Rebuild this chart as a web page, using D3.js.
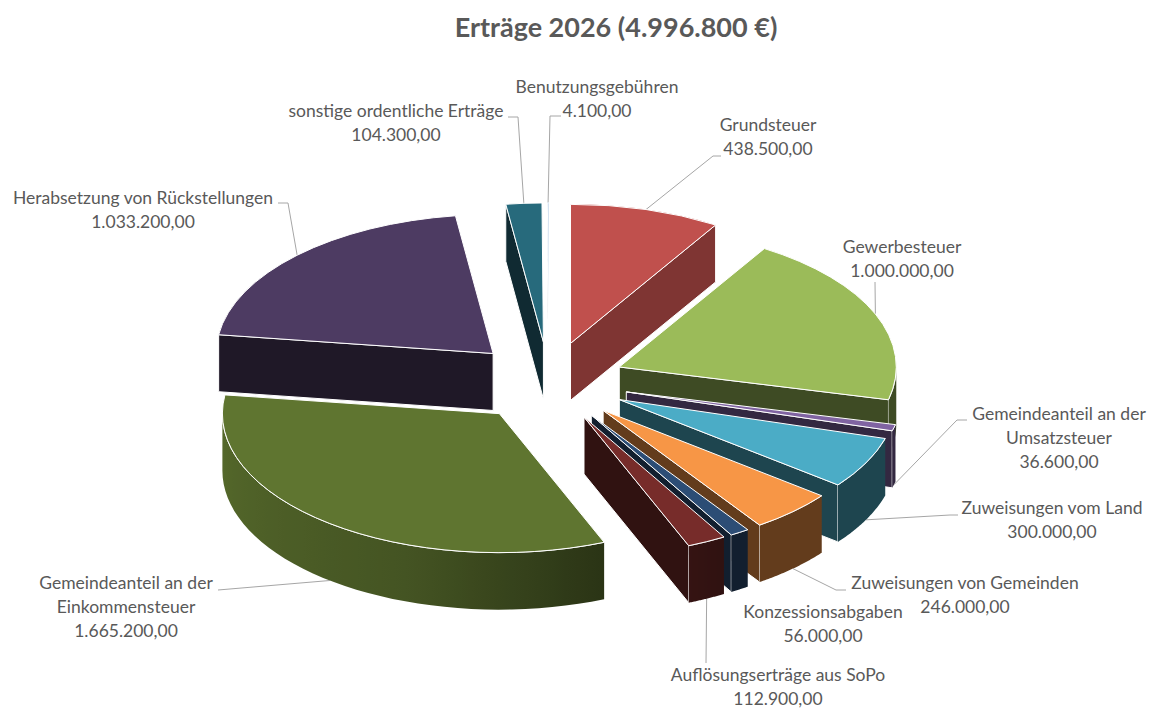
<!DOCTYPE html>
<html>
<head>
<meta charset="utf-8">
<script src="https://cdnjs.cloudflare.com/ajax/libs/d3/7.8.5/d3.min.js"></script>
<style>
	html,body{margin:0;padding:0;background:#fff;}
	svg{display:block;}
	text{font-family:Lato,'Open Sans',sans-serif;fill:#595959;}
</style>
</head>
<body>
<div id="chart"></div>
<script>
////////////////////////////////////////
// data
////////////////////////////////////////

var categories = [
	'Benutzungsgebühren',
	'Grundsteuer',
	'Gewerbesteuer',
	'Gemeindeanteil an der Umsatzsteuer',
	'Zuweisungen vom Land',
	'Zuweisungen von Gemeinden',
	'Konzessionsabgaben',
	'Auflösungserträge aus SoPo',
	'Gemeindeanteil an der Einkommensteuer',
	'Herabsetzung von Rückstellungen',
	'sonstige ordentliche Erträge'
];
var values = [4100,438500,1000000,36600,300000,246000,56000,112900,1665200,1033200,104300];
var sliceColors = ['#4f81bd','#c0504d','#9bbb59','#8064a2','#4bacc6','#f79646','#2c4d75','#772c2a','#5f7530','#4d3b62','#276a7c'];

////////////////////////////////////////
// layout
////////////////////////////////////////

var w = 1154, h = 709;
var cx = 549, cy = 381.5;
var rx = 277, ry = 139;
var depth = 57;
var explodeBy = [79,79,76,80,79,79,79,79,81,79,79];

// label text broken the way it is in the chart, [x, y of first line]
var labelLines = [
	['Benutzungsgebühren'],
	['Grundsteuer'],
	['Gewerbesteuer'],
	['Gemeindeanteil an der','Umsatzsteuer'],
	['Zuweisungen vom Land'],
	['Zuweisungen von Gemeinden'],
	['Konzessionsabgaben'],
	['Auflösungserträge aus SoPo'],
	['Gemeindeanteil an der','Einkommensteuer'],
	['Herabsetzung von Rückstellungen'],
	['sonstige ordentliche Erträge']
];
var labelPos = [[597,87],[768,125],[902,247],[1059,414],[1052,508],[965,583],[823,612],[778,675],[126,583],[143,198],[396,111]];
var lineGap = 23.8;

// leader elbows, null = no leader drawn
var leaderPts = [
	[[550,116],[561,116]],
	[[713,156],[721,156]],
	[[875,282]],
	[[957,420],[967,420]],
	[[950,515],[958,515]],
	[[836,590],[846,590]],
	null,
	[[706,663]],
	[[218,590]],
	[[288,203],[278,203]],
	[[518,117],[508,117]]
];

var num = d3.formatLocale({decimal:',',thousands:'.',grouping:[3],currency:['','€']});
var fmtValue = num.format(',.2f');
var fmtTotal = num.format(',');

////////////////////////////////////////
// pie
////////////////////////////////////////

var total = d3.sum(values);
var startOffset = -values[0]/total*2*Math.PI;

var pie = d3.pie()
	.sort(null)
	.startAngle(startOffset)
	.endAngle(startOffset+2*Math.PI);

var slices = pie(values).map(function(d,i){
	var mid = (d.startAngle+d.endAngle)/2;
	return {
		i:i,
		a0:d.startAngle,
		a1:d.endAngle,
		mid:mid,
		color:sliceColors[i],
		x:cx+explodeBy[i]*Math.sin(mid),
		y:cy-explodeBy[i]*(ry/rx)*Math.cos(mid)
	};
});

function shade(color,s){
	var c = d3.rgb(color);
	return d3.rgb(c.r*s,c.g*s,c.b*s).formatHex();
}

// how dark the outer wall gets going round the front
var rimShade = d3.scaleLinear()
	.domain([90,150,157,200,270])
	.range([.4,.4,.44,.72,.9])
	.clamp(true);

function rimPoint(s,a,drop){
	return [s.x+rx*Math.sin(a), s.y-ry*Math.cos(a)+drop];
}

var line = d3.line();

////////////////////////////////////////
// svg
////////////////////////////////////////

var vis = d3.select('#chart')
	.append('svg')
	.attr('width',w)
	.attr('height',h);

var defs = vis.append('defs');

vis.append('text')
	.attr('x',616)
	.attr('y',37)
	.attr('text-anchor','middle')
	.attr('font-size',27)
	.attr('font-weight',700)
	.text('Erträge 2026 ('+fmtTotal(total)+' €)');

////////////////////////////////////////
// leaders go under the pie
////////////////////////////////////////

vis.selectAll('path.leader')
	.data(slices.filter(function(s){ return leaderPts[s.i]; }))
	.enter()
		.append('path')
		.attr('class','leader')
		.attr('fill','none')
		.attr('stroke','#a6a6a6')
		.attr('stroke-width',1)
		.attr('d',function(s){
			var drop = Math.cos(s.mid)<0 ? depth : 0;
			return line([rimPoint(s,s.mid,drop)].concat(leaderPts[s.i]));
		});

////////////////////////////////////////
// slices, back to front
////////////////////////////////////////

var arc = d3.arc().innerRadius(0).outerRadius(rx);

var order = slices.slice().sort(function(a,b){ return a.y-b.y; });

var sliceG = vis.selectAll('g.slice')
	.data(order)
	.enter()
		.append('g')
		.attr('class','slice');

sliceG.each(function(s){
	var g = d3.select(this);

	// cut faces
	[s.a0,s.a1].forEach(function(a,k){
		var nx = k===0 ? -Math.cos(a) : Math.cos(a);
		var ny = k===0 ? -Math.sin(a) : Math.sin(a);
		if(ny<=0) return;
		var top = rimPoint(s,a,0), bottom = rimPoint(s,a,depth);
		g.append('path')
			.attr('fill',shade(s.color,nx>.5 ? .66 : .4))
			.attr('stroke','#fff')
			.attr('stroke-width',1)
			.attr('stroke-linejoin','round')
			.attr('d',line([[s.x,s.y],top,bottom,[s.x,s.y+depth]])+'Z');
	});

	// outer wall, only the part that faces front
	var r0 = Math.max(s.a0,Math.PI/2), r1 = Math.min(s.a1,Math.PI*1.5);
	if(r1>r0){
		var steps = d3.range(0,41).map(function(k){ return r0+(r1-r0)*k/40; });
		var x0 = rimPoint(s,r0,0)[0], x1 = rimPoint(s,r1,0)[0];
		var id = 'rim_'+s.i;
		var grad = defs.append('linearGradient')
			.attr('id',id)
			.attr('gradientUnits','userSpaceOnUse')
			.attr('x1',x0).attr('x2',x1)
			.attr('y1',0).attr('y2',0);
		steps.forEach(function(a){
			grad.append('stop')
				.attr('offset',(rimPoint(s,a,0)[0]-x0)/(x1-x0))
				.attr('stop-color',shade(s.color,rimShade(a*180/Math.PI)));
		});
		var topEdge = steps.map(function(a){ return rimPoint(s,a,0); });
		var botEdge = steps.slice().reverse().map(function(a){ return rimPoint(s,a,depth); });
		g.append('path')
			.attr('fill','url(#'+id+')')
			.attr('d',line(topEdge.concat(botEdge))+'Z');
		g.append('path')
			.attr('fill','none')
			.attr('stroke','#fff')
			.attr('stroke-width',1)
			.attr('d',line(topEdge));
	}

	// top face, a d3.arc squashed to the ellipse
	g.append('path')
		.attr('transform','translate('+s.x+','+s.y+') scale(1,'+(ry/rx)+')')
		.attr('fill',s.color)
		.attr('stroke','#fff')
		.attr('stroke-width',1)
		.attr('vector-effect','non-scaling-stroke')
		.attr('d',arc({startAngle:s.a0,endAngle:s.a1}));
});

////////////////////////////////////////
// labels
////////////////////////////////////////

var labels = vis.selectAll('text.label')
	.data(categories)
	.enter()
		.append('text')
		.attr('class','label')
		.attr('text-anchor','middle')
		.attr('font-size',17.5);

labels.each(function(d,i){
	var t = d3.select(this);
	var rows = labelLines[i].concat(fmtValue(values[i]));
	rows.forEach(function(row,k){
		t.append('tspan')
			.attr('x',labelPos[i][0])
			.attr('y',labelPos[i][1]+6+k*lineGap)
			.text(row);
	});
});
</script>
</body>
</html>
